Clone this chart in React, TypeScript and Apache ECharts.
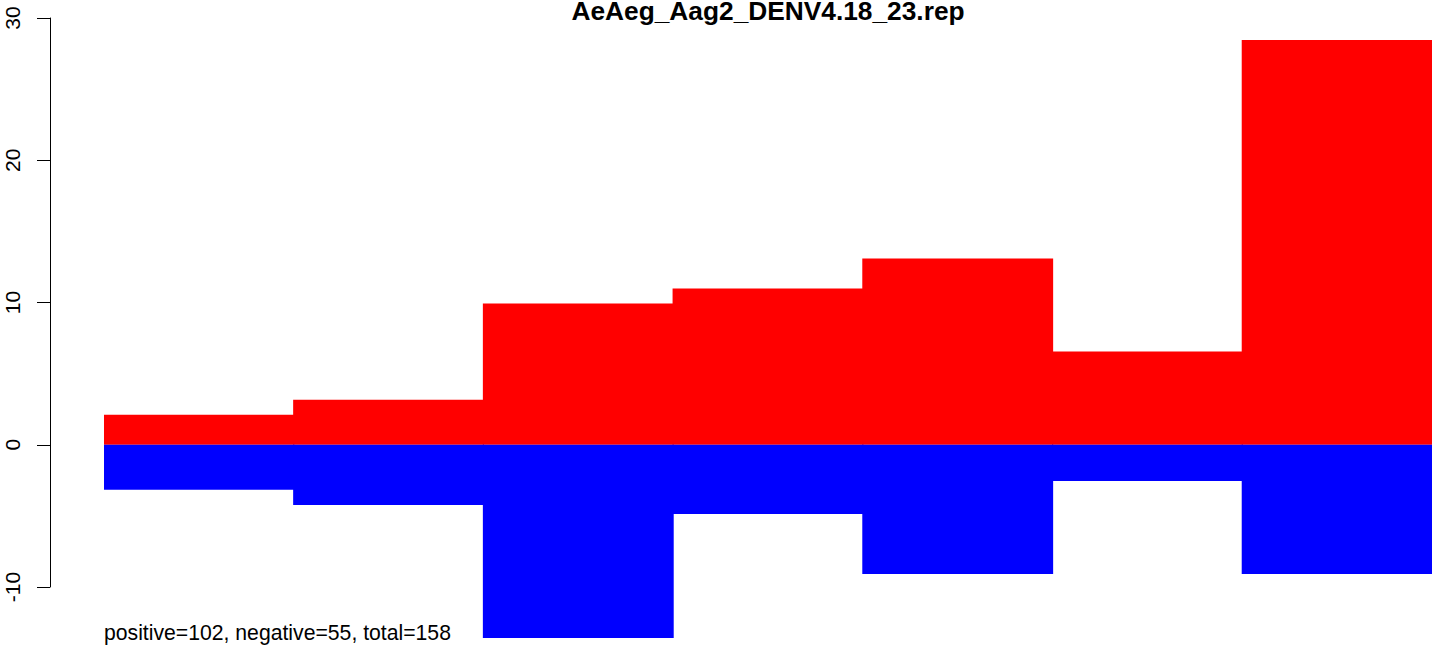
import React, { useEffect, useRef } from "react";
import * as echarts from "echarts";

const categories = ["1", "2", "3", "4", "5", "6", "7"];
const positiveValues = [2.11, 3.17, 9.93, 10.99, 13.1, 6.55, 28.45];
const negativeValues = [-3.17, -4.23, -13.59, -4.86, -9.08, -2.54, -9.08];
const yTicks = [-10, 0, 10, 20, 30];
const titleText = "AeAeg_Aag2_DENV4.18_23.rep";
const footerText = "positive=102, negative=55, total=158";

const FONT = "'Liberation Sans', Arial, Helvetica, sans-serif";

export default function App() {
  const ref = useRef<HTMLDivElement>(null);
  useEffect(() => {
    if (!ref.current) return;
    const chart = echarts.init(ref.current, null, { renderer: "svg" });
    chart.setOption({
      animation: false,
      backgroundColor: "#ffffff",
      grid: [
        { left: 104, right: 1, top: 18, height: 44 * 14.225, containLabel: false },
        { left: 50, width: 10, top: 18, height: 569, containLabel: false },
      ],
      xAxis: [
        { type: "category", data: categories, gridIndex: 0, show: false, boundaryGap: true },
        { type: "value", gridIndex: 1, show: false },
      ],
      yAxis: [
        { type: "value", gridIndex: 0, min: -14, max: 30, show: false },
        {
          type: "value",
          gridIndex: 1,
          min: yTicks[0],
          max: yTicks[yTicks.length - 1],
          interval: 10,
          axisLine: { show: true, lineStyle: { color: "#000", width: 1 } },
          axisTick: { show: true, length: 13, lineStyle: { color: "#000", width: 1 } },
          splitLine: { show: false },
          axisLabel: {
            rotate: 90,
            margin: 27,
            color: "#000",
            fontSize: 21,
            fontFamily: FONT,
          },
        },
      ],
      series: [
        {
          type: "bar",
          data: positiveValues,
          xAxisIndex: 0,
          yAxisIndex: 0,
          barWidth: "100.6%",
          barGap: "-100%",
          itemStyle: { color: "#ff0000" },
        },
        {
          type: "bar",
          data: negativeValues,
          xAxisIndex: 0,
          yAxisIndex: 0,
          barWidth: "100.6%",
          barGap: "-100%",
          itemStyle: { color: "#0000ff" },
        },
      ],
      graphic: [
        {
          type: "text",
          x: 768,
          y: 10.5,
          style: {
            text: titleText,
            fontSize: 26.3,
            fontWeight: "bold",
            fontFamily: FONT,
            fill: "#000",
            align: "center",
            verticalAlign: "middle",
          },
        },
        {
          type: "text",
          x: 104,
          y: 632,
          style: {
            text: footerText,
            fontSize: 21.2,
            fontFamily: FONT,
            fill: "#000",
            align: "left",
            verticalAlign: "middle",
          },
        },
      ],
    });
    return () => chart.dispose();
  }, []);
  return (
    <div
      ref={ref}
      style={{ position: "fixed", left: 0, top: 0, width: 1433, height: 645 }}
    />
  );
}
